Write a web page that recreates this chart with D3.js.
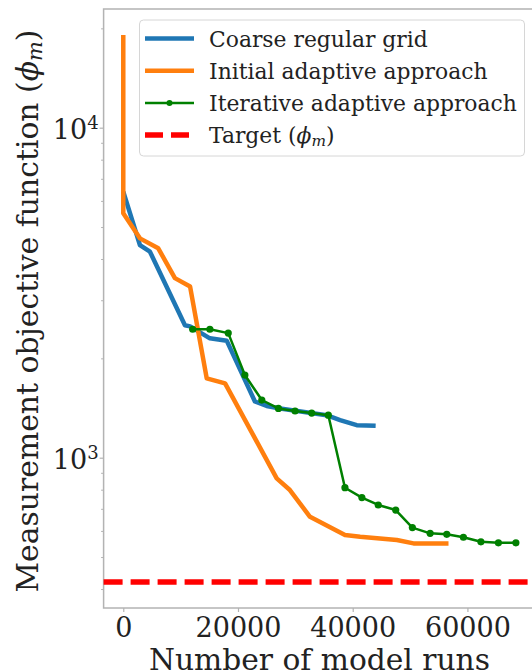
<!DOCTYPE html>
<html>
<head>
<meta charset="utf-8">
<script src="https://cdn.jsdelivr.net/npm/d3@7"></script>
<style>
  html, body { margin: 0; padding: 0; background: #fff; }
  svg { display: block; font-family: "DejaVu Serif", serif; }
</style>
</head>
<body>
<svg id="chart" width="532" height="672"></svg>
<script>
// Convergence of the measurement objective function vs. number of model runs
const coarseRuns   = [0, 2900, 4650, 10750, 11650, 15100, 18050, 22950, 25000, 27350, 35450, 37800, 40700, 44000];
const coarseValues = [6400, 4410, 4210, 2520, 2500, 2300, 2260, 1480, 1435, 1410, 1345, 1300, 1255, 1250];

const initialRuns   = [0, 0, 2900, 6100, 9000, 11650, 14550, 17750, 26750, 29050, 32550, 38650, 41300, 47700, 50600, 56700];
const initialValues = [19100, 5500, 4620, 4310, 3500, 3300, 1740, 1680, 866, 798, 662, 583, 576, 563, 550, 550];

const iterativeRuns   = [12100, 15100, 18300, 21200, 24150, 27050, 29950, 32850, 35750, 38650, 41600, 44450, 47500, 50400, 53500, 56400, 59300, 62350, 65400, 68450];
const iterativeValues = [2450, 2450, 2385, 1780, 1495, 1410, 1385, 1365, 1345, 811, 757, 719, 694, 614, 590, 586, 574, 556, 552, 552];

const targetValue = 420;

const xTickValues = [0, 20000, 40000, 60000];
const xTickLabels = ["0", "20000", "40000", "60000"];
const yMajorTicks = [1000, 10000];
const yMajorExponents = ["3", "4"];
const yMinorTicks = [400, 500, 600, 700, 800, 900, 2000, 3000, 4000, 5000, 6000, 7000, 8000, 9000, 20000];

const seriesNames = ["Coarse regular grid", "Initial adaptive approach", "Iterative adaptive approach", "Target"];
const xLabel = "Number of model runs";
const yLabel = "Measurement objective function";

const colors = { coarse: "#1f77b4", initial: "#ff7f0e", iterative: "#008000", target: "#ff0000" };

const svg = d3.select("#chart");
const plotLeft = 103.6, plotRight = 535.8, plotTop = 9, plotBottom = 608;

const x = d3.scaleLinear().domain([-3430, 71920]).range([plotLeft, plotRight]);
const y = d3.scaleLog().domain([350.4, 22890]).range([plotBottom, plotTop]);

const zip = (a, b) => a.map((v, i) => [v, b[i]]);
const line = d3.line().x(d => x(d[0])).y(d => y(d[1]));

// scale a label's font so its run spans the wanted length
function fitLength(sel, length) {
  const w = sel.node().getComputedTextLength();
  const fs = parseFloat(sel.attr("font-size"));
  if (w > 0) sel.attr("font-size", fs * length / w);
}

// axes frame
const spine = "#b3b3b3";
svg.append("rect")
  .attr("x", plotLeft).attr("y", plotTop)
  .attr("width", plotRight - plotLeft).attr("height", plotBottom - plotTop)
  .attr("fill", "none").attr("stroke", spine).attr("stroke-width", 1.5);

// x axis
const xAxis = svg.append("g")
  .attr("transform", `translate(0,${plotBottom})`)
  .call(d3.axisBottom(x).tickValues(xTickValues)
    .tickFormat((d, i) => xTickLabels[i]).tickSize(4).tickPadding(6));
xAxis.select(".domain").remove();
xAxis.selectAll("line").attr("stroke", spine).attr("stroke-width", 1.2);
xAxis.selectAll("text").attr("font-size", 27).attr("fill", "#222")
  .attr("font-family", "DejaVu Serif");

// y axis: minor ticks
const yMinor = svg.append("g")
  .attr("transform", `translate(${plotLeft},0)`)
  .call(d3.axisLeft(y).tickValues(yMinorTicks).tickFormat(() => "").tickSize(2.5));
yMinor.select(".domain").remove();
yMinor.selectAll("line").attr("stroke", spine).attr("stroke-width", 1);

// y axis: major ticks with power-of-ten labels
const yMajor = svg.append("g")
  .attr("transform", `translate(${plotLeft},0)`)
  .call(d3.axisLeft(y).tickValues(yMajorTicks).tickFormat(() => "").tickSize(4));
yMajor.select(".domain").remove();
yMajor.selectAll("line").attr("stroke", spine).attr("stroke-width", 1.2);
yMajor.selectAll(".tick").each(function(d, i) {
  const t = d3.select(this).append("text")
    .attr("x", -5).attr("y", 11)
    .attr("text-anchor", "end")
    .attr("fill", "#222")
    .attr("font-family", "DejaVu Serif")
    .attr("font-size", 27);
  t.append("tspan").text("10");
  t.append("tspan").attr("font-size", 18).attr("dy", -10).text(yMajorExponents[i]);
});

// axis titles
const xl = svg.append("text")
  .attr("x", 319.5).attr("y", 670)
  .attr("text-anchor", "middle")
  .attr("font-size", 29).attr("fill", "#222")
  .text(xLabel);
fitLength(xl, 341);

const yl = svg.append("text")
  .attr("transform", `translate(38,311) rotate(-90)`)
  .attr("text-anchor", "middle")
  .attr("font-size", 29).attr("fill", "#222");
yl.append("tspan").text(yLabel + " (");
yl.append("tspan").attr("font-style", "italic").text("ϕ");
yl.append("tspan").attr("font-style", "italic").attr("font-size", "0.7em").attr("dy", "0.2em").text("m");
yl.append("tspan").attr("dy", "-0.14em").text(")");
fitLength(yl, 563);

// data lines
svg.append("path").datum(zip(coarseRuns, coarseValues))
  .attr("d", line).attr("fill", "none")
  .attr("stroke", colors.coarse).attr("stroke-width", 4.5).attr("stroke-linejoin", "round");

svg.append("path").datum(zip(initialRuns, initialValues))
  .attr("d", line).attr("fill", "none")
  .attr("stroke", colors.initial).attr("stroke-width", 4.5).attr("stroke-linejoin", "round");

const iterative = zip(iterativeRuns, iterativeValues);
svg.append("path").datum(iterative)
  .attr("d", line).attr("fill", "none")
  .attr("stroke", colors.iterative).attr("stroke-width", 2.5).attr("stroke-linejoin", "round");
svg.append("g").selectAll("circle").data(iterative).join("circle")
  .attr("cx", d => x(d[0])).attr("cy", d => y(d[1])).attr("r", 3.6)
  .attr("fill", colors.iterative);

// target level
svg.append("line")
  .attr("x1", plotLeft).attr("x2", 532)
  .attr("y1", y(targetValue)).attr("y2", y(targetValue))
  .attr("stroke", colors.target).attr("stroke-width", 5.5)
  .attr("stroke-dasharray", "19,8");

// legend
const lg = svg.append("g");
lg.append("rect")
  .attr("x", 139.5).attr("y", 20).attr("width", 385).attr("height", 136)
  .attr("rx", 4).attr("fill", "#fff").attr("fill-opacity", 0.85)
  .attr("stroke", "#d6d6d6").attr("stroke-width", 1);

const rowY = [38.5, 70.7, 102.9, 135.1];
const hx1 = 145, hx2 = 194, tx = 209;
const entries = [
  { color: colors.coarse, width: 4.5 },
  { color: colors.initial, width: 4.5 },
  { color: colors.iterative, width: 2.5, marker: true },
  { color: colors.target, width: 5.5, dash: "18,8" }
];
const legendTexts = [];
entries.forEach((e, i) => {
  lg.append("line")
    .attr("x1", hx1).attr("x2", hx2).attr("y1", rowY[i]).attr("y2", rowY[i])
    .attr("stroke", e.color).attr("stroke-width", e.width)
    .attr("stroke-dasharray", e.dash || null);
  if (e.marker) {
    lg.append("circle").attr("cx", (hx1 + hx2) / 2).attr("cy", rowY[i]).attr("r", 3)
      .attr("fill", e.color);
  }
  const t = lg.append("text").attr("x", tx).attr("y", rowY[i] + 8.3)
    .attr("font-size", 24).attr("fill", "#222");
  if (i === 3) {
    t.append("tspan").text(seriesNames[i] + " (");
    t.append("tspan").attr("font-style", "italic").text("ϕ");
    t.append("tspan").attr("font-style", "italic").attr("font-size", "0.7em").attr("dy", "0.2em").text("m");
    t.append("tspan").attr("dy", "-0.14em").text(")");
  } else {
    t.text(seriesNames[i]);
  }
  legendTexts.push(t);
});
// the widest entry sets the legend's text size
const widest = legendTexts[2];
fitLength(widest, 308);
const fsLegend = parseFloat(widest.attr("font-size"));
legendTexts.forEach(t => t.attr("font-size", fsLegend));
</script>
</body>
</html>
